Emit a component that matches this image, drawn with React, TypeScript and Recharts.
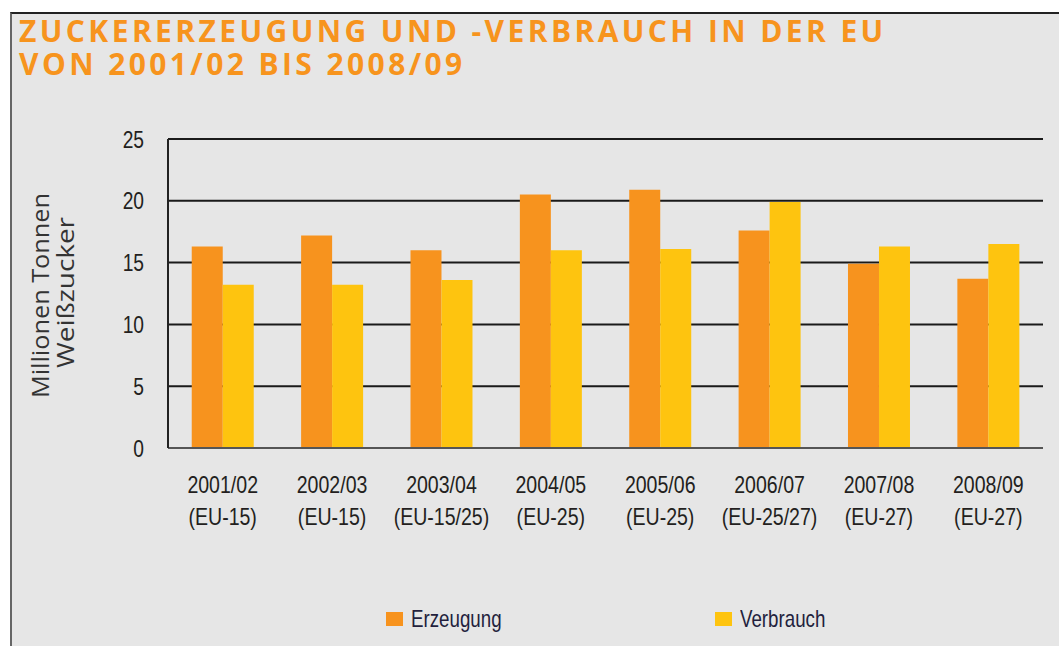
import React from 'react';
import { BarChart, Bar, XAxis, YAxis, CartesianGrid, Legend, Label } from 'recharts';

const categories = ['2001/02', '2002/03', '2003/04', '2004/05', '2005/06', '2006/07', '2007/08', '2008/09'];
const regions = ['(EU-15)', '(EU-15)', '(EU-15/25)', '(EU-25)', '(EU-25)', '(EU-25/27)', '(EU-27)', '(EU-27)'];
const erzeugung = [16.3, 17.2, 16.0, 20.5, 20.9, 17.6, 14.9, 13.7];
const verbrauch = [13.2, 13.2, 13.6, 16.0, 16.1, 19.9, 16.3, 16.5];
const yTicks = [0, 5, 10, 15, 20, 25];
const boundaryTicks = [1, 2, 3, 4, 5, 6, 7, 8];
const titleLines = ['ZUCKERERZEUGUNG UND -VERBRAUCH IN DER EU', 'VON 2001/02 BIS 2008/09'];
const yLabelLines = ['Millionen Tonnen', 'Weißzucker'];
const seriesNames = ['Erzeugung', 'Verbrauch'];

const ORANGE = '#f7931e';
const YELLOW = '#fec40f';
const SANS = "'Liberation Sans', Arial, sans-serif";

const data = categories.map((c, i) => ({
  cat: c,
  region: regions[i],
  Erzeugung: erzeugung[i],
  Verbrauch: verbrauch[i],
}));

const CatTick = (props: any) => {
  const { x, y, payload, index } = props;
  return (
    <g>
      <text
        transform={`translate(${x}, ${y + 45}) scale(0.85, 1)`}
        textAnchor="middle"
        fill="#231f20"
        fontSize={23}
        fontFamily={SANS}
      >
        {payload.value}
      </text>
      <text
        transform={`translate(${x}, ${y + 76.5}) scale(0.85, 1)`}
        textAnchor="middle"
        fill="#231f20"
        fontSize={23}
        fontFamily={SANS}
      >
        {regions[index]}
      </text>
    </g>
  );
};

const NumTick = (props: any) => {
  const { x, y, payload } = props;
  return (
    <text
      transform={`translate(${x}, ${y}) scale(0.8, 1)`}
      textAnchor="end"
      dy="0.355em"
      fill="#231f20"
      fontSize={24}
      fontFamily={SANS}
    >
      {payload.value}
    </text>
  );
};

const YLabel = (props: any) => {
  const vb = props.viewBox || {};
  const cy = (vb.y ?? 139) + (vb.height ?? 309) / 2;
  return (
    <g>
      <text
        transform={`translate(48.5, ${cy + 2}) rotate(-90)`}
        textAnchor="middle"
        fill="#333"
        fontSize={24}
        fontFamily="'Open Sans', sans-serif"
        textLength={205}
        lengthAdjust="spacingAndGlyphs"
      >
        {yLabelLines[0]}
      </text>
      <text
        transform={`translate(74, ${cy - 1}) rotate(-90)`}
        textAnchor="middle"
        fill="#333"
        fontSize={24}
        fontFamily="'Open Sans', sans-serif"
        textLength={151}
        lengthAdjust="spacingAndGlyphs"
      >
        {yLabelLines[1]}
      </text>
    </g>
  );
};

const LegendContent = () => {
  const colors = [ORANGE, YELLOW];
  return (
    <div style={{ display: 'flex', height: 30, alignItems: 'center' }}>
      {seriesNames.map((n, i) => (
        <div key={n} style={{ width: 329, display: 'flex', alignItems: 'center' }}>
          <span style={{ display: 'inline-block', width: 17, height: 14, background: colors[i], marginRight: 8, flex: 'none' }} />
          <span
            style={{
              fontFamily: SANS,
              fontSize: 24,
              color: '#231f3d',
              display: 'inline-block',
              transform: 'scaleX(0.78)',
              transformOrigin: 'left center',
              whiteSpace: 'nowrap',
            }}
          >
            {n}
          </span>
        </div>
      ))}
    </div>
  );
};

export default function App() {
  return (
    <div style={{ position: 'absolute', left: 0, top: 0, width: 1059, height: 646, background: '#fff', overflow: 'hidden' }}>
      <div
        style={{
          position: 'absolute',
          left: 10,
          top: 12,
          width: 1049,
          height: 634,
          background: '#e6e6e6',
          borderTop: '2px solid #222',
          borderLeft: '2px solid #666',
          boxSizing: 'border-box',
        }}
      />
      <div
        style={{
          position: 'absolute',
          left: 19,
          top: 13.5,
          fontFamily: "'Open Sans', 'Noto Sans', sans-serif",
          fontWeight: 700,
          fontSize: 30,
          lineHeight: '33.3px',
          letterSpacing: 3.4,
          color: '#f7941d',
          whiteSpace: 'nowrap',
        }}
      >
        {titleLines[0]}
        <br />
        {titleLines[1]}
      </div>
      <div style={{ position: 'absolute', left: 0, top: 0 }}>
        <BarChart
          width={1059}
          height={646}
          data={data}
          margin={{ top: 139, right: 16, left: 88, bottom: 8 }}
          barCategoryGap="21.7%"
          barGap={0}
        >
          <CartesianGrid vertical={false} stroke="#1a1a1a" strokeWidth={2} horizontalValues={yTicks} />
          <XAxis
            xAxisId="b"
            type="number"
            domain={[0, 8]}
            ticks={boundaryTicks}
            height={0}
            mirror
            tickSize={7}
            tick={false}
            tickLine={{ stroke: '#333', strokeWidth: 2 }}
            axisLine={false}
            allowDataOverflow
          />
          <XAxis
            dataKey="cat"
            height={160}
            axisLine={{ stroke: '#555', strokeWidth: 2 }}
            tickLine={false}
            tickSize={0}
            tickMargin={0}
            tick={<CatTick />}
            interval={0}
          />
          <YAxis
            domain={[0, 25]}
            ticks={yTicks}
            width={80}
            tickLine={false}
            tickSize={0}
            tickMargin={24}
            axisLine={{ stroke: '#222', strokeWidth: 2 }}
            tick={<NumTick />}
          >
            <Label content={<YLabel />} />
          </YAxis>
          <Legend
            verticalAlign="bottom"
            content={<LegendContent />}
            wrapperStyle={{ left: 386, top: 604, width: 660, height: 30 }}
          />
          <Bar dataKey="Erzeugung" fill={ORANGE} isAnimationActive={false} />
          <Bar dataKey="Verbrauch" fill={YELLOW} isAnimationActive={false} />
        </BarChart>
      </div>
    </div>
  );
}
